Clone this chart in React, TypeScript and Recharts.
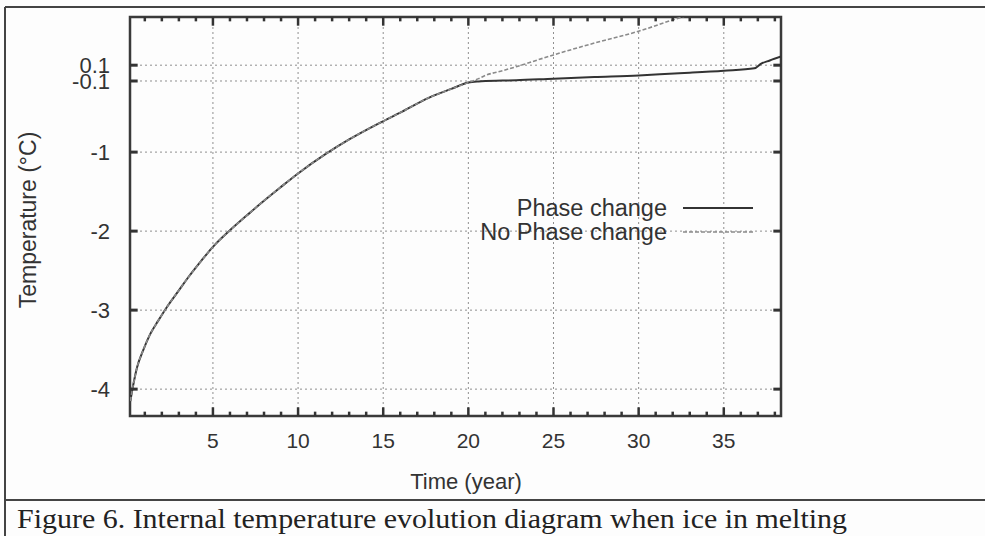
import {
  LineChart,
  Line,
  XAxis,
  YAxis,
  CartesianGrid,
  ReferenceLine,
  ReferenceArea,
  Legend,
} from "recharts";

const timeYears = [
  0.15, 0.3, 0.55, 0.9, 1.3, 1.8, 2.3, 3.0, 3.5, 4.3, 5.0, 6.0, 7.0, 7.75, 9.0,
  10.0, 11.65, 13.0, 14.8, 16.0, 17.7, 19.0, 20.0, 20.6, 21.0, 22.0, 22.8, 25.0,
  27.4, 30.0, 32.1, 33.0, 35.0, 36.8, 37.2, 37.7, 38.36,
];

const phaseChange = [
  -4.15, -3.97, -3.72, -3.51, -3.31, -3.13, -2.96, -2.75, -2.6, -2.38, -2.2,
  -1.99, -1.8, -1.66, -1.44, -1.27, -1.02, -0.84, -0.63, -0.5, -0.31, -0.2,
  -0.12, -0.105, -0.1, -0.095, -0.09, -0.07, -0.05, -0.03, -0.005, 0.005, 0.03,
  0.06, 0.12, 0.16, 0.21,
];

const noPhaseChange = [
  -4.15, -3.97, -3.72, -3.51, -3.31, -3.13, -2.96, -2.75, -2.6, -2.38, -2.2,
  -1.99, -1.8, -1.66, -1.44, -1.27, -1.02, -0.84, -0.63, -0.5, -0.31, -0.2,
  -0.12, -0.07, -0.03, 0.03, 0.08, 0.23, 0.38, 0.53, 0.68, 0.74, null, null,
  null, null, null,
];

const xTicks = [5, 10, 15, 20, 25, 30, 35];
const xMinorTicks = Array.from({ length: 38 }, (_, i) => i + 1);
const yTicks = [-4, -3, -2, -1, -0.1, 0.1];

const X_MIN = 0.13;
const X_MAX = 38.36;
const Y_MIN = -4.34;
const Y_MAX = 0.71;

const series = [
  { key: "phase", name: "Phase change", color: "#333333", width: 2, dash: undefined },
  { key: "noPhase", name: "No Phase change", color: "#8a8a8a", width: 1.6, dash: "4 2" },
];

const data = timeYears.map((t, i) => ({
  t,
  phase: phaseChange[i],
  noPhase: noPhaseChange[i],
}));

const SANS = "'Liberation Sans', Arial, Helvetica, sans-serif";
const SERIF = "'Liberation Serif', 'Times New Roman', serif";
const INK = "#333333";

const renderLegend = () => (
  <div style={{ fontFamily: SANS, fontSize: 23.5, color: INK }}>
    {series.map((s) => (
      <div key={s.key} style={{ display: "flex", alignItems: "center", height: 24 }}>
        <span style={{ width: 227, textAlign: "right", whiteSpace: "nowrap" }}>{s.name}</span>
        <svg width={86} height={24}>
          <line
            x1={16}
            x2={86}
            y1={12}
            y2={12}
            stroke={s.color}
            strokeWidth={s.width}
            strokeDasharray={s.dash}
          />
        </svg>
      </div>
    ))}
  </div>
);

const App = () => {
  const xTickLen = (v: number) => (v % 5 === 0 ? 0.11 : 0.055);

  return (
    <div
      style={{
        position: "absolute",
        left: 0,
        top: 0,
        width: 985,
        height: 536,
        background: "#fdfdfd",
        overflow: "hidden",
      }}
    >
      <svg width={985} height={536} style={{ position: "absolute", left: 0, top: 0 }}>
        <line x1={5} y1={7} x2={985} y2={7} stroke="#444" strokeWidth={2} />
        <line x1={5} y1={7} x2={5} y2={536} stroke="#444" strokeWidth={2} />
        <line x1={5} y1={500} x2={985} y2={500} stroke="#444" strokeWidth={2} />
        <text
          x={28}
          y={220}
          transform="rotate(-90 28 220)"
          textAnchor="middle"
          dominantBaseline="central"
          fontFamily={SANS}
          fontSize={23}
          fill={INK}
        >
          Temperature (°C)
        </text>
        <text
          x={466}
          y={481}
          textAnchor="middle"
          dominantBaseline="central"
          fontFamily={SANS}
          fontSize={22}
          fill={INK}
        >
          Time (year)
        </text>
        <text
          x={17}
          y={528}
          fontFamily={SERIF}
          fontSize={27}
          textLength={830}
          lengthAdjust="spacingAndGlyphs"
          fill="#222"
        >
          Figure 6. Internal temperature evolution diagram when ice in melting
        </text>
      </svg>

      <div style={{ position: "absolute", left: 0, top: 0 }}>
        <LineChart
          width={985}
          height={536}
          data={data}
          margin={{ top: 17, right: 204, bottom: 90, left: 0 }}
        >
          <CartesianGrid stroke="#8f8f8f" strokeDasharray="2 3" />
          <XAxis
            type="number"
            dataKey="t"
            domain={[X_MIN, X_MAX]}
            allowDataOverflow
            ticks={xTicks}
            interval={0}
            axisLine={false}
            tickLine={false}
            tickSize={0}
            tickMargin={17}
            height={30}
            tick={{ fontFamily: SANS, fontSize: 21, fill: INK }}
          />
          <YAxis
            type="number"
            domain={[Y_MIN, Y_MAX]}
            allowDataOverflow
            ticks={yTicks}
            interval={0}
            axisLine={false}
            tickLine={false}
            tickSize={0}
            tickMargin={20}
            width={130}
            tick={{ fontFamily: SANS, fontSize: 22, fill: INK }}
          />
          <Legend
            layout="vertical"
            align="center"
            verticalAlign="middle"
            content={renderLegend}
            wrapperStyle={{ left: 440, top: 196, width: 330 }}
          />
          {series.map((s) => (
            <Line
              key={s.key}
              dataKey={s.key}
              name={s.name}
              type="monotone"
              stroke={s.color}
              strokeWidth={s.width}
              strokeDasharray={s.dash}
              dot={false}
              activeDot={false}
              isAnimationActive={false}
            />
          ))}
          {xMinorTicks.map((v) => (
            <ReferenceLine
              key={`xb${v}`}
              segment={[
                { x: v, y: Y_MIN },
                { x: v, y: Y_MIN + xTickLen(v) },
              ]}
              stroke={INK}
              strokeWidth={2.5}
            />
          ))}
          {xMinorTicks.map((v) => (
            <ReferenceLine
              key={`xt${v}`}
              segment={[
                { x: v, y: Y_MAX },
                { x: v, y: Y_MAX - xTickLen(v) },
              ]}
              stroke={INK}
              strokeWidth={2.5}
            />
          ))}
          {yTicks.map((v) => (
            <ReferenceLine
              key={`yl${v}`}
              segment={[
                { x: X_MIN, y: v },
                { x: X_MIN + 0.45, y: v },
              ]}
              stroke={INK}
              strokeWidth={3}
            />
          ))}
          {yTicks.map((v) => (
            <ReferenceLine
              key={`yr${v}`}
              segment={[
                { x: X_MAX, y: v },
                { x: X_MAX - 0.45, y: v },
              ]}
              stroke={INK}
              strokeWidth={3}
            />
          ))}
          <ReferenceArea
            x1={X_MIN}
            x2={X_MAX}
            y1={Y_MIN}
            y2={Y_MAX}
            fill="none"
            fillOpacity={0}
            stroke="#3a3a3a"
            strokeWidth={2.5}
            ifOverflow="visible"
          />
        </LineChart>
      </div>
    </div>
  );
};

export default App;
